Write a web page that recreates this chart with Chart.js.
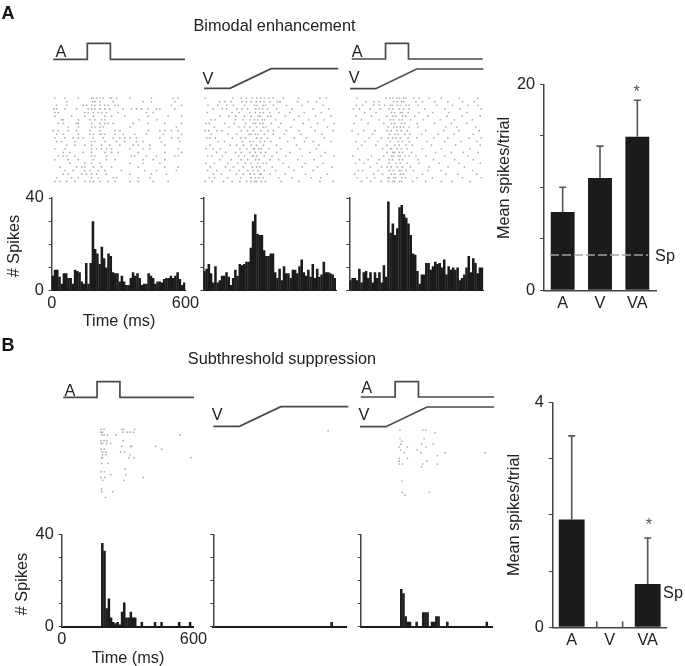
<!DOCTYPE html>
<html>
<head>
<meta charset="utf-8">
<style>
html,body{margin:0;padding:0;background:#fff;}
#page{position:relative;width:685px;height:666px;overflow:hidden;font-family:"Liberation Sans",Arial,sans-serif;color:#222;filter:blur(0.35px);}
#page canvas{position:absolute;display:block;}
.t{position:absolute;white-space:nowrap;font-size:16.3px;line-height:1;transform:translate(-50%,-50%);}
</style>
<script src="https://cdn.jsdelivr.net/npm/chart.js@4"></script>
</head>
<body>
<div id="page"></div>
<script>
// ---------- data ----------
const auditoryTimes = [0,155,155,260,260,600];
const auditoryLevels = [0,0,1,1,0,0];
const visualTimes = [0,116,300,600];
const visualLevels = [0,0,1,1];

const binMs = 10;
const histA1 = [6.5,9,9,6,3,7.5,7.5,5.5,5.5,3,9,8.5,8,4,3,12,3,12,30,18,16,11.5,19,14,10,16,15,8,7.5,7.5,4,6.5,4,2.5,2.5,5.5,8,6.5,7.5,5.5,2.5,3,3,7.5,6.5,5.5,3,4,4,3.5,5,5.5,5.5,6.5,5.5,6.5,8,5,2.5,3.5];
const histA2 = [8.5,9.5,11.5,7.5,3.5,10.5,3.5,4.5,6.5,6.5,8,6,2.5,5.5,9,6.5,11.5,11,11.5,12.5,12.5,18.5,30,33,24.5,24,24,17.5,15,15,16,16,8,5.5,9.5,4.5,10.5,7.5,7.5,5.5,9,9,7.5,10.5,13.5,8,6.5,9,6,11.5,5.5,9.5,6,7,12.5,8,8,7.5,7,5.5];
const histA3 = [4.5,5.5,5.5,4.5,9.5,3.5,8,8.5,5.5,8,3.5,8,5.5,8,3.5,11,6,38.5,25,29,24,27,36,37,33,31.5,29,24,16,15.5,8.5,3,7,7,12,12,9,10.5,12.5,11.5,12,10,13.5,7,10.5,9,10,9,10,4.5,5.5,7,10,15,8,14,12,7.5,10,10];
const histB1 = [0,0,0,0,0,0,0,0,0,0,0,0,0,0,0,0,0,0,36.4,33,8,12.3,4,2,1.5,2,1,6.5,10.5,4,4,6.5,4,4,0,0,2,0,0,0,0,0,2,0,0,2,0,0,0,0,0,0,0,2,0,0,0,0,2,0];
const histB2 = [0,0,0,0,0,0,0,0,0,0,0,0,0,0,0,0,0,0,0,0,0,0,0,0,0,0,0,0,0,0,0,0,0,0,0,0,0,0,0,0,0,0,0,0,0,0,0,0,0,0,0,0,0,2,0,0,0,0,0,0];
const histB3 = [0,0,0,0,0,0,0,0,0,0,0,0,0,0,0,0,0,0,16.4,14.5,4.5,2.2,2.2,0,0,2.2,0,0,6.3,6.3,6.3,0,2.2,2.2,4.5,4.5,0,0,0,2.2,0,0,0,0,0,0,0,0,0,0,0,0,0,0,0,0,0,2.2,0,0];

const rasterA1 = [
[13,58,118,177,185,200,215,229,259,267,289,349,445,542,565],
[66,182,192,215,274,408,445,550],
[21,66,140,155,177,192,215,237,252,282,296,535,580],
[9,21,58,110,162,177,192,215,237,259,319,356,378,401,431,468,483,550],
[13,28,147,162,185,207,222,244,296,423,453],
[13,88,147,185,237,267,326,431,520,580],
[43,51,118,170,192,222,237,390,470],
[28,51,110,118,177,215,237,252,274,364,431,505,580],
[73,118,177,192,215,229,349,557],
[6,28,73,110,170,215,282,304,431,483,505,535,565],
[21,51,118,170,185,215,222,237,282,319,371,423,498,580],
[13,58,95,118,140,185,229,274,304,326,349,378,483,535,565],
[21,43,103,177,192,237,289,326,378,408,490,572],
[66,103,147,177,222,259,304,364,386,438,505],
[13,58,177,200,222,244,267,349,408,438,565],
[51,80,140,177,237,267,296,386,505,580],
[28,51,66,103,177,192,244,356,371,423,468,550,565],
[13,73,118,185,244,282,408,453,505],
[80,147,177,215,349,408,483],
[36,110,133,147,185,222,267,386,505,565],
[58,95,147,170,207,237,311,416,468,557],
[51,73,133,155,177,200,244,349,445,513],
[21,88,118,177,207,274,289,386,438],
[13,36,66,103,147,170,185,215,252,282,349,386,453,520]];
const rasterA2 = [
[6,130,168,192,217,238,257,272,293,312,358,427,523,552],
[70,93,122,173,191,213,236,254,271,298,332,343,422,468,507],
[18,62,103,132,183,228,239,267,278,313,372,443,537],
[41,83,101,148,172,197,233,248,264,287,327,398,493,563],
[15,127,158,207,232,252,268,297,338,387,452,528],
[73,112,143,182,213,243,253,288,302,367,428,503,572],
[32,52,141,177,208,227,242,263,273,323,407,473,542],
[8,24,93,137,188,222,233,252,266,303,347,448,512,587],
[47,113,157,183,207,237,267,278,337,392,483,557],
[5,22,58,82,168,197,223,257,288,313,372,428,502,583],
[33,107,148,203,212,232,243,272,312,363,437,533],
[12,26,51,128,167,187,238,258,287,342,408,462,543],
[63,92,173,207,222,253,273,302,377,453,492,573],
[27,118,147,178,213,237,268,327,417,518],
[10,42,73,162,193,223,228,247,258,293,347,433,507],
[57,98,142,168,207,232,257,277,328,387,478,547],
[17,36,83,157,182,217,224,238,272,307,368,442,528,588],
[72,123,167,197,233,247,298,337,423,497],
[8,47,108,152,187,212,243,267,282,358,457,538],
[28,97,133,177,218,238,252,308,382,443,512,578],
[16,58,117,158,198,222,243,272,323,407,493],
[42,78,147,177,208,227,253,258,298,367,458,557],
[23,48,107,167,213,232,248,267,338,397,483,527],
[5,37,88,127,162,192,212,228,237,258,277,348,427,523,582]];
const rasterA3 = [
[27,158,177,188,207,218,237,248,283,307,353,407,488,572],
[68,103,127,192,207,228,238,293,322,378,437,503,557],
[23,52,102,128,152,178,187,208,222,248,262,303,387,458,527,573],
[11,38,87,132,172,188,218,237,263,332,423,492,588],
[62,113,183,197,223,232,258,307,368,442,523],
[23,92,162,188,202,233,247,288,347,433,502,583],
[47,127,178,192,218,232,268,327,403,467,548],
[14,77,148,183,197,228,242,298,377,453,522],
[168,193,207,223,237,263,302,428,477,563],
[5,57,108,163,182,208,227,253,337,418,487,578],
[33,97,172,198,212,243,267,318,392,463,552],
[82,137,168,187,203,222,258,297,373,437,533,588],
[22,63,122,177,213,232,263,342,423,497,568],
[48,112,162,198,217,248,277,363,472,583],
[31,143,178,183,208,227,253,322,408,537],
[163,188,197,218,232,273,382,453,507,573],
[8,92,147,183,192,213,222,243,262,293,337,423,527],
[38,77,127,173,187,218,232,303,372,468,552],
[21,58,117,172,203,222,253,307,398,487,583],
[87,138,163,182,208,232,268,352,438,512],
[33,52,122,173,192,218,227,248,282,348,407,548],
[16,102,142,183,197,223,237,323,427,483,567],
[28,72,108,167,173,193,202,228,247,298,367,503,588],
[47,88,137,168,188,197,218,227,278,337,408,457,538]];
const rasterB1 = [
[178,192,272,282,332],[178,185,276,297,309,325],[181,192,207,246,536],[],[178,192,204,279],
[178,185,204,222],[272,312,317,426],[178,193,453],[185,201,267,285],[185,201,309],
[181,185,305,328,586],[],[181,211],[],[287],[178,193],[222,291],[178,196,370],[185,282],
[],[],[181],[181,231],[],[199]];
const rasterB2 = [[519]];
const rasterB3 = [
[179,283,296],[339],[],[179,289],[187],[182,278,331],[176,213,298],[182,258],[199,275,385,567],
[350],[176,213],[176,301],[176,190,283,350],[278],[],[],[],[],[187],[],[],[],[190,313],[202]];

const barLabels = ['A','V','VA'];
const barMeansA = [7.6,10.9,14.9];
const barUpperA = [10,14,18.45];
const spontaneousA = 3.43;
const barMeansB = [1.92,0,0.77];
const barUpperB = [3.41,null,1.59];

// ---------- layout and helpers ----------
const page = document.getElementById('page');
const INK = '#1b1b1b', AXIS = '#444', FONT = {family:'"Liberation Sans",Arial,sans-serif', size:16.3};
Chart.defaults.animation = false;
Chart.defaults.responsive = false;
Chart.defaults.plugins.legend.display = false;
Chart.defaults.plugins.tooltip.enabled = false;

function place(box, pads){
  const cv = document.createElement('canvas');
  const left = Math.floor(box.l - pads.l), top = Math.floor(box.t - pads.t);
  const w = Math.ceil(box.r - left + pads.r), h = Math.ceil(box.b - top + pads.b);
  cv.width = w; cv.height = h;
  cv.style.left = left+'px'; cv.style.top = top+'px';
  cv.style.width = w+'px'; cv.style.height = h+'px';
  page.appendChild(cv);
  return {cv, pl:box.l-left, pt:box.t-top, pr:left+w-box.r, pb:top+h-box.b};
}
function fit(size, isY){ return s => { if(isY) s.width = size; else s.height = size; }; }

function trace(box, xs, ys){
  const p = place(box,{l:3,t:3,r:3,b:3});
  new Chart(p.cv,{type:'scatter',
    data:{datasets:[{data:xs.map((x,i)=>({x,y:ys[i]})),showLine:true,tension:0,borderColor:'#4a4a4a',borderWidth:1.7,pointRadius:0,clip:false}]},
    options:{layout:{autoPadding:false,padding:{left:p.pl,top:p.pt,right:p.pr,bottom:p.pb}},
      scales:{x:{type:'linear',min:0,max:600,display:false},y:{type:'linear',min:0,max:1,display:false}}}});
}
function raster(box, rows){
  const p = place(box,{l:3,t:3,r:3,b:3});
  const pts = [];
  rows.forEach((r,i)=>r.forEach(t=>pts.push({x:t,y:i})));
  new Chart(p.cv,{type:'scatter',
    data:{datasets:[{data:pts,backgroundColor:'rgba(110,110,110,.6)',borderWidth:0,pointRadius:0.85,clip:false}]},
    options:{layout:{autoPadding:false,padding:{left:p.pl,top:p.pt,right:p.pr,bottom:p.pb}},
      scales:{x:{type:'linear',min:0,max:600,display:false},y:{type:'linear',min:0,max:24,reverse:true,display:false}}}});
}
function histogram(box, values, labelled, baseWidth){
  const p = place(box,{l:36,t:24,r:16,b:26});
  new Chart(p.cv,{type:'bar',
    data:{datasets:[{data:values.map((v,i)=>({x:i*binMs+binMs/2,y:v})),backgroundColor:INK,barPercentage:1.15,categoryPercentage:1,borderWidth:0}]},
    options:{layout:{autoPadding:false,padding:{left:0,top:p.pt,right:p.pr,bottom:0}},
      scales:{
        x:{type:'linear',offset:false,min:0,max:600,afterFit:fit(p.pb,false),
           grid:{display:false,drawTicks:false,offset:false},border:{color:INK,width:baseWidth},
           ticks:{stepSize:600,maxRotation:0,padding:3,color:'#222',font:FONT,display:labelled}},
        y:{type:'linear',min:0,max:40,afterFit:fit(p.pl,true),
           grid:{drawOnChartArea:false,tickLength:3,color:AXIS},border:{color:AXIS,width:1.5},
           ticks:{stepSize:10,padding:5,color:'#222',font:FONT,autoSkip:false,callback:v=>(labelled&&(v===0||v===40))?String(v):''}}
      }}});
}
const errorBars = {
  id:'errorBars',
  afterDatasetsDraw(chart,args,opts){
    const c = chart.ctx, meta = chart.getDatasetMeta(opts.barIndex), y = chart.scales.y;
    c.save(); c.strokeStyle = '#555'; c.lineWidth = 1.6;
    opts.upper.forEach((u,i)=>{
      const bar = meta.data[i];
      c.beginPath();
      if(u===null){
        const half = bar.width/2, base = y.getPixelForValue(0);
        c.moveTo(bar.x-half,base); c.lineTo(bar.x-half,base-6);
        c.moveTo(bar.x+half,base); c.lineTo(bar.x+half,base-6);
      } else {
        const top = y.getPixelForValue(u);
        c.moveTo(bar.x,bar.y); c.lineTo(bar.x,top);
        c.moveTo(bar.x-3.5,top); c.lineTo(bar.x+3.5,top);
      }
      c.stroke();
    });
    c.restore();
  }
};
function barPanel(box, means, upper, yMax, tickStep, barPct, spont){
  const p = place(box,{l:36,t:24,r:10,b:26});
  const datasets = [{type:'bar',data:means,backgroundColor:INK,barPercentage:barPct,categoryPercentage:1,grouped:false,order:1}];
  if(spont!==null){
    datasets.push({type:'line',xAxisID:'x2',data:[{x:0.16,y:spont},{x:2.79,y:spont}],borderColor:'#a2a2a2',borderWidth:1.6,borderDash:[9,3],pointRadius:0,order:0});
  }
  new Chart(p.cv,{data:{labels:barLabels,datasets},plugins:[errorBars],
    options:{layout:{autoPadding:false,padding:{left:0,top:p.pt,right:p.pr,bottom:0}},
      plugins:{errorBars:{upper,barIndex:0}},
      scales:{
        x:{type:'category',offset:true,afterFit:fit(p.pb,false),grid:{display:false,drawTicks:false},border:{color:AXIS,width:1.5},
           ticks:{padding:3,color:'#222',font:FONT,maxRotation:0}},
        x2:{type:'linear',offset:false,min:0,max:3,display:false},
        y:{type:'linear',min:0,max:yMax,afterFit:fit(p.pl,true),
           grid:{drawOnChartArea:false,tickLength:4,color:AXIS},border:{color:AXIS,width:1.5},
           ticks:{stepSize:tickStep,padding:5,color:'#222',font:FONT,autoSkip:false,callback:v=>(v===0||v===yMax)?String(v):''}}
      }}});
}
function text(str,x,y,extra){
  const d = document.createElement('div');
  d.className='t'; d.textContent=str; d.style.left=x+'px'; d.style.top=y+'px';
  if(extra) Object.assign(d.style,extra);
  page.appendChild(d);
}

// ---------- panel A ----------
trace({l:53.3,r:185,t:43.3,b:59.3},auditoryTimes,auditoryLevels);
trace({l:204,r:338.3,t:68.7,b:88.3},visualTimes,visualLevels);
trace({l:351.7,r:482.7,t:43.3,b:59},auditoryTimes,auditoryLevels);
trace({l:350,r:483.3,t:69,b:88.7},visualTimes,visualLevels);
raster({l:52,r:186,t:98,b:185},rasterA1);
raster({l:204,r:337,t:98,b:185},rasterA2);
raster({l:351,r:484,t:98,b:185},rasterA3);
histogram({l:51.7,r:185.7,t:198,b:290.7},histA1,true,1);
histogram({l:203.3,r:336,t:198,b:290.7},histA2,false,1);
histogram({l:349.3,r:483.3,t:198,b:290.7},histA3,false,1);
barPanel({l:544,r:656,t:84.3,b:290.3},barMeansA,barUpperA,20,5,0.64,spontaneousA);

// ---------- panel B ----------
trace({l:63.3,r:194,t:381.7,b:397.3},auditoryTimes,auditoryLevels);
trace({l:213.3,r:348.3,t:406.7,b:426.3},visualTimes,visualLevels);
trace({l:360.7,r:494,t:381.7,b:397},auditoryTimes,auditoryLevels);
trace({l:360,r:494,t:407,b:426.7},visualTimes,visualLevels);
raster({l:61.7,r:194,t:429.3,b:497.3},rasterB1);
raster({l:213.3,r:346,t:430.7,b:498},rasterB2);
raster({l:360.7,r:492.3,t:430,b:498},rasterB3);
histogram({l:61.7,r:194,t:534.7,b:626.7},histB1,true,2);
histogram({l:213.3,r:346,t:534.7,b:626.7},histB2,false,2);
histogram({l:360.7,r:492.3,t:534.7,b:626.7},histB3,false,2);
barPanel({l:552.7,r:666.7,t:402.7,b:627.3},barMeansB,barUpperB,4,1,0.68,null);

// ---------- text ----------
const BIG = {fontWeight:'bold',fontSize:'18px',color:'#111'};
text('A',8,12.5,BIG);
text('B',8,345,BIG);
text('Bimodal enhancement',274.5,25);
text('Subthreshold suppression',282,358);
text('A',61,51); text('V',208,77.7); text('A',357.3,50.5); text('V',354.3,77.3);
text('A',70,389.5); text('V',217.3,414); text('A',366.7,387); text('V',364,414.3);
text('# Spikes',12.5,246,{transform:'translate(-50%,-50%) rotate(-90deg)'});
text('# Spikes',20.7,584,{transform:'translate(-50%,-50%) rotate(-90deg)'});
text('Time (ms)',119,320);
text('Time (ms)',128,656.7);
text('Mean spikes/trial',503,178,{transform:'translate(-50%,-50%) rotate(-90deg)'});
text('Mean spikes/trial',512.7,515,{transform:'translate(-50%,-50%) rotate(-90deg)'});
text('Sp',665,255); text('Sp',673,591.7);
text('*',636.7,91,{color:'#555'}); text('*',649,524,{color:'#555'});
</script>
</body>
</html>
